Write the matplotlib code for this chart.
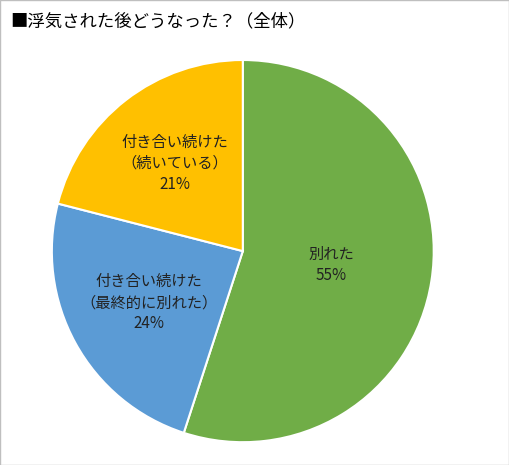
import matplotlib
matplotlib.use("Agg")
import matplotlib.pyplot as plt
import numpy as np

plt.rcParams['font.family'] = ['Noto Sans CJK JP', 'DejaVu Sans']

labels = ["別れた", "付き合い続けた\n（最終的に別れた）", "付き合い続けた\n（続いている）"]
values = [55, 24, 21]
colors = ["#70AD47", "#5B9BD5", "#FFC000"]
label_r = [0.47, 0.56, 0.58]

fig = plt.figure(figsize=(5.09, 4.65), dpi=100)
fig.patches.append(plt.Rectangle((0, 0), 1, 1, transform=fig.transFigure,
                                 fill=False, edgecolor="#BFBFBF", linewidth=1))
ax = fig.add_axes([0.100, 0.047, 0.754, 0.826])
wedges, _ = ax.pie(values, colors=colors, startangle=90, counterclock=False,
                   wedgeprops=dict(edgecolor="white", linewidth=1.5))
for w, lab, v, r in zip(wedges, labels, values, label_r):
    ang = np.deg2rad((w.theta1 + w.theta2) / 2)
    ax.text(r * np.cos(ang), r * np.sin(ang), f"{lab}\n{v}%", ha="center",
            va="center", fontsize=11, linespacing=1.3, color="#222222")
ax.set_xlim(-1.005, 1.005)
ax.set_ylim(-1.005, 1.005)
ax.set_aspect("equal", adjustable="datalim")
fig.text(0.02, 0.955, "■浮気された後どうなった？（全体）", fontsize=12.5,
         va="center", ha="left", color="black")
fig.savefig("out.png", dpi=100)
